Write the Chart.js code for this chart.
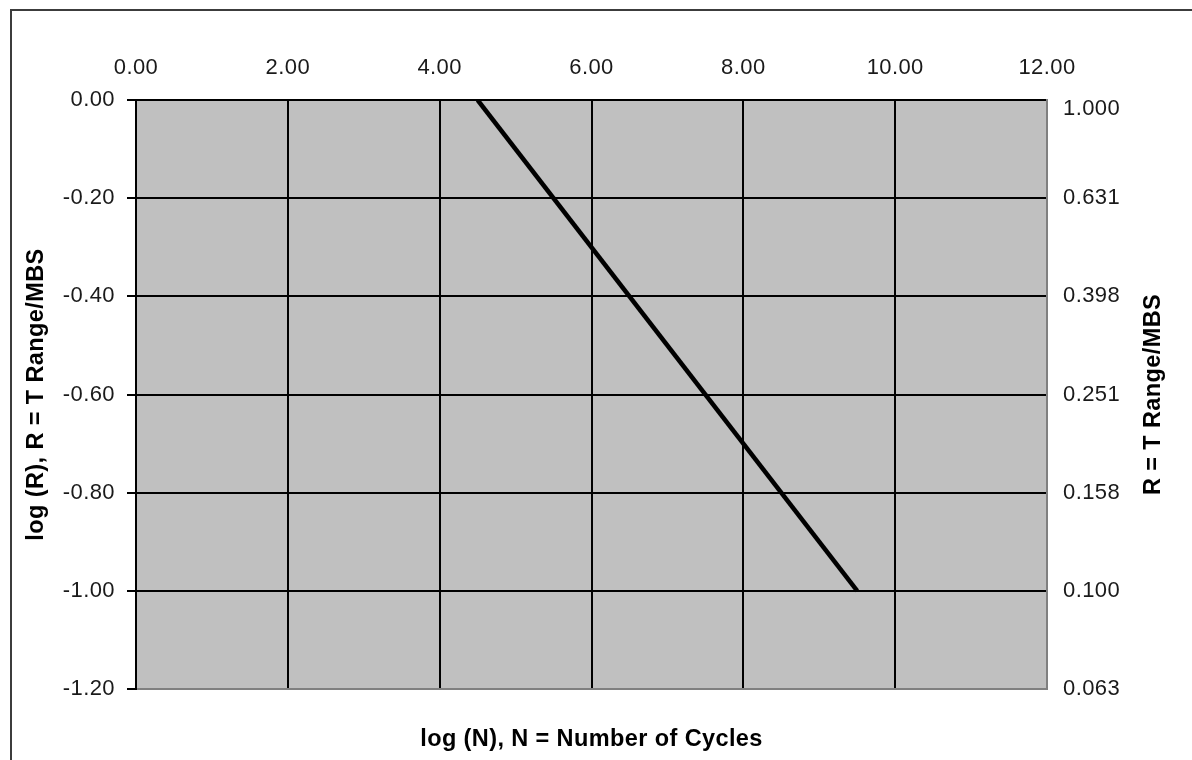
<!DOCTYPE html>
<html>
<head>
<meta charset="utf-8">
<script src="https://cdn.jsdelivr.net/npm/chart.js@4.4.1/dist/chart.umd.min.js"></script>
<style>
  html, body { margin: 0; padding: 0; background: #fff; }
  canvas { display: block; }
</style>
</head>
<body>
<canvas id="c" width="1192" height="760"></canvas>
<script>
// S-N line: log(N) against log(R)
const logN = [4.5, 9.5];
const logR = [0.0, -1.0];

// axis ticks
const xTicks = [0, 2, 4, 6, 8, 10, 12];
const yTicks = [0, -0.2, -0.4, -0.6, -0.8, -1.0, -1.2];
const rightTickLabels = ['1.000', '0.631', '0.398', '0.251', '0.158', '0.100', '0.063'];

// axis titles
const xTitle = 'log (N), N = Number of Cycles';
const yTitle = 'log (R), R = T Range/MBS';
const y2Title = 'R = T Range/MBS';

const FONT = '"Liberation Sans", Arial, sans-serif';
const tickFont = { family: FONT, size: 22 };
const titleFont = { family: FONT, size: 23.5, weight: 'bold' };
const SPACING = '0.4px';
const TEXT = '#1a1a1a';
const EDGE = '#808080';
const near = (a, b) => Math.abs(a - b) < 1e-9;

// frame, plot background, right-hand labels and title
const frame = {
  id: 'frame',
  beforeLayout(chart) { chart.ctx.letterSpacing = SPACING; },
  beforeDraw(chart) {
    const { ctx, chartArea: a } = chart;
    ctx.letterSpacing = SPACING;
    ctx.save();
    ctx.fillStyle = '#fff';
    ctx.fillRect(0, 0, chart.width, chart.height);
    ctx.strokeStyle = '#3c3c3c';
    ctx.lineWidth = 2;
    ctx.strokeRect(11, 10, chart.width + 40, chart.height + 40);
    ctx.fillStyle = '#c0c0c0';
    ctx.fillRect(a.left, a.top, a.right - a.left, a.bottom - a.top);
    ctx.restore();
  },
  afterDraw(chart) {
    const { ctx, chartArea: a } = chart;
    const s = chart.scales.y2;
    ctx.save();
    ctx.letterSpacing = SPACING;
    ctx.font = `${tickFont.size}px ${FONT}`;
    ctx.fillStyle = TEXT;
    ctx.textAlign = 'left';
    ctx.textBaseline = 'middle';
    yTicks.forEach((v, i) => {
      const y = Math.max(s.getPixelForValue(v), a.top + 9);
      ctx.fillText(rightTickLabels[i], a.right + 16, y);
    });
    ctx.font = `bold ${titleFont.size}px ${FONT}`;
    ctx.fillStyle = '#000';
    ctx.textAlign = 'center';
    ctx.translate(a.right + 107, (a.top + a.bottom) / 2);
    ctx.rotate(-Math.PI / 2);
    ctx.fillText(y2Title, 0, 0);
    ctx.restore();
  }
};

new Chart(document.getElementById('c').getContext('2d'), {
  type: 'scatter',
  data: {
    datasets: [{
      data: logN.map((x, i) => ({ x, y: logR[i] })),
      showLine: true,
      borderColor: '#000',
      borderWidth: 4.5,
      pointRadius: 0,
      pointHoverRadius: 0,
      tension: 0,
      xAxisID: 'x',
      yAxisID: 'y'
    }]
  },
  options: {
    responsive: false,
    animation: false,
    devicePixelRatio: 1,
    events: [],
    layout: { padding: 0 },
    plugins: { legend: { display: false }, tooltip: { enabled: false } },
    scales: {
      x: {
        type: 'linear', position: 'top', min: 0, max: 12,
        afterBuildTicks: s => { s.ticks = xTicks.map(v => ({ value: v })); },
        afterFit: s => { s.height = 100; },
        ticks: { font: tickFont, color: TEXT, padding: 19, maxRotation: 0, autoSkip: false,
                 callback: v => v.toFixed(2) },
        grid: { color: c => (c.tick && near(c.tick.value, 12)) ? EDGE : '#000', lineWidth: 2, drawTicks: false },
        border: { color: '#000', width: 2 }
      },
      x2: {
        type: 'linear', position: 'bottom', min: 0, max: 12,
        afterFit: s => { s.height = 71; },
        ticks: { display: false },
        grid: { display: false },
        border: { color: EDGE, width: 2 },
        title: { display: true, text: xTitle, font: titleFont, color: '#000', padding: { top: 0, bottom: 6 } }
      },
      y: {
        type: 'linear', position: 'left', min: -1.2, max: 0,
        afterBuildTicks: s => { s.ticks = yTicks.slice().reverse().map(v => ({ value: v })); },
        afterFit: s => { s.width = 136; },
        ticks: { font: tickFont, color: TEXT, padding: 12, autoSkip: false,
                 callback: v => (near(v, 0) ? 0 : v).toFixed(2) },
        grid: { color: c => (c.tick && near(c.tick.value, -1.2)) ? EDGE : '#000', lineWidth: 2,
                tickLength: 9, tickColor: '#000' },
        border: { color: '#000', width: 2 },
        title: { display: true, text: yTitle, font: titleFont, color: '#000', padding: { top: 22, bottom: 0 } }
      },
      y2: {
        type: 'linear', position: 'right', min: -1.2, max: 0,
        afterFit: s => { s.width = 145; },
        ticks: { display: false },
        grid: { display: false },
        border: { color: EDGE, width: 2 }
      }
    }
  },
  plugins: [frame]
});
</script>
</body>
</html>
